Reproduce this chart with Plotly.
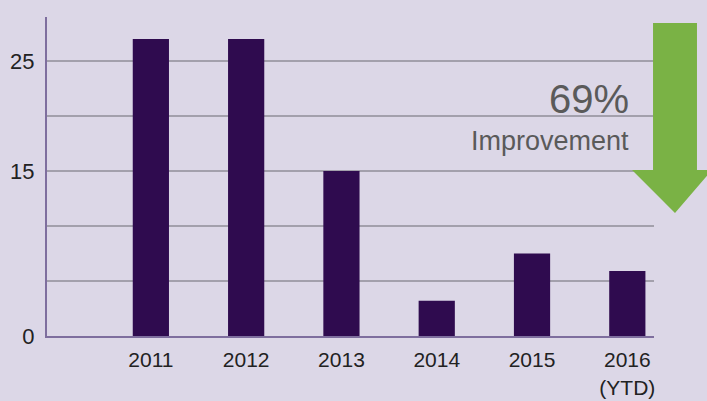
import plotly.graph_objects as go

years = ["2011", "2012", "2013", "2014", "2015", "2016<br>(YTD)"]
values = [27, 27, 15, 3.2, 7.5, 5.9]
y_tickvals = [0, 5, 10, 15, 20, 25]
y_ticktext = ["0", "", "", "15", "", "25"]

BG = "#DCD7E7"
BAR = "#2F0B4F"
GRID = "#A3A0AC"
AXIS = "#7E6E9E"
GREEN = "#7AB245"
TXT = "#222222"

fig = go.Figure()
fig.add_trace(go.Bar(x=list(range(len(years))), y=values, marker=dict(color=BAR, line=dict(width=0)),
                     width=0.38))

fig.update_layout(
    width=707, height=401,
    margin=dict(l=47, r=53, t=17, b=65, autoexpand=False),
    paper_bgcolor=BG, plot_bgcolor=BG,
    showlegend=False,
    font=dict(family="Liberation Sans, Arial, sans-serif", color=TXT, size=22),
    xaxis=dict(range=[-1.09, 5.28], tickvals=list(range(len(years))), ticktext=years,
               showgrid=False, zeroline=False, showline=True, linecolor=AXIS, linewidth=2,
               ticks="", ticklabelstandoff=4, automargin=False, tickfont=dict(size=21, color=TXT)),
    yaxis=dict(range=[0, 29], tickvals=y_tickvals, ticktext=y_ticktext,
               showgrid=True, gridcolor=GRID, gridwidth=2, zeroline=False,
               showline=True, linecolor=AXIS, linewidth=2, ticks="", ticklabelstandoff=6,
               automargin=False, tickfont=dict(size=22, color=TXT)),
)

# green down arrow (paper coords)
def px(x):
    return (x - 47) / 607.0

def py(y):
    return (336 - y) / 319.0

pts = [(653, 23), (697, 23), (697, 170), (712, 170), (675, 213), (632, 170), (653, 170)]
path = "M " + " L ".join(f"{px(a):.4f},{py(b):.4f}" for a, b in pts) + " Z"
fig.add_shape(type="path", xref="paper", yref="paper", path=path,
              fillcolor=GREEN, line=dict(width=0), layer="above")

fig.add_annotation(xref="paper", yref="paper", x=px(631), y=py(99), text="69%",
                   showarrow=False, xanchor="right", yanchor="middle",
                   font=dict(size=40, color="#5A5A5A"))
fig.add_annotation(xref="paper", yref="paper", x=px(631), y=py(141), text="Improvement",
                   showarrow=False, xanchor="right", yanchor="middle",
                   font=dict(size=27, color="#5A5A5A"))

fig.write_html("out.html")
